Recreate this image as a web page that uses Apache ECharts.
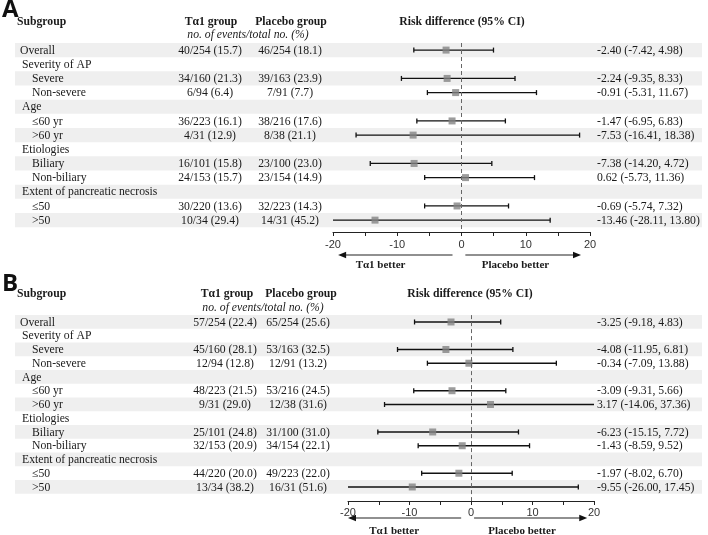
<!DOCTYPE html>
<html><head><meta charset="utf-8">
<script src="https://cdn.jsdelivr.net/npm/echarts@6/dist/echarts.min.js"></script>
<style>html,body{margin:0;padding:0;background:#fff}#c{width:708px;height:535px}</style>
</head><body><div id="c"></div>
<script>
// ---------- DATA ----------
const subgroups = ['Overall','Severity of AP','Severe','Non-severe','Age','≤60 yr','>60 yr','Etiologies','Biliary','Non-biliary','Extent of pancreatic necrosis','≤50','>50'];
const indentLevel = [0,1,2,2,1,2,2,1,2,2,1,2,2];
// Panel A
const aT1Events = [40,null,34,6,null,36,4,null,16,24,null,30,10];
const aT1Total  = [254,null,160,94,null,223,31,null,101,153,null,220,34];
const aT1Pct    = [15.7,null,21.3,6.4,null,16.1,12.9,null,15.8,15.7,null,13.6,29.4];
const aPlEvents = [46,null,39,7,null,38,8,null,23,23,null,32,14];
const aPlTotal  = [254,null,163,91,null,216,38,null,100,154,null,223,31];
const aPlPct    = [18.1,null,23.9,7.7,null,17.6,21.1,null,23.0,14.9,null,14.3,45.2];
const aRD = [-2.40,null,-2.24,-0.91,null,-1.47,-7.53,null,-7.38,0.62,null,-0.69,-13.46];
const aLo = [-7.42,null,-9.35,-5.31,null,-6.95,-16.41,null,-14.20,-5.73,null,-5.74,-28.11];
const aHi = [4.98,null,8.33,11.67,null,6.83,18.38,null,4.72,11.36,null,7.32,13.80];
// Panel B
const bT1Events = [57,null,45,12,null,48,9,null,25,32,null,44,13];
const bT1Total  = [254,null,160,94,null,223,31,null,101,153,null,220,34];
const bT1Pct    = [22.4,null,28.1,12.8,null,21.5,29.0,null,24.8,20.9,null,20.0,38.2];
const bPlEvents = [65,null,53,12,null,53,12,null,31,34,null,49,16];
const bPlTotal  = [254,null,163,91,null,216,38,null,100,154,null,223,31];
const bPlPct    = [25.6,null,32.5,13.2,null,24.5,31.6,null,31.0,22.1,null,22.0,51.6];
const bRD = [-3.25,null,-4.08,-0.34,null,-3.09,3.17,null,-6.23,-1.43,null,-1.97,-9.55];
const bLo = [-9.18,null,-11.95,-7.09,null,-9.31,-14.06,null,-15.15,-8.59,null,-8.02,-26.00];
const bHi = [4.83,null,6.81,13.88,null,5.66,37.36,null,7.72,9.52,null,6.70,17.45];
const xTickLabels = [-20,-10,0,10,20];
const headers = {sub:'Subgroup', t1:'Tα1 group', pl:'Placebo group', rd:'Risk difference (95% CI)', note:'no. of events/total no. (%)'};
const betterLabels = ['Tα1 better','Placebo better'];

// ---------- LAYOUT ----------
const SERIF = '"Liberation Serif", "Times New Roman", serif';
const SANS = '"Liberation Sans", Arial, sans-serif';
const TXT = '#1a1a1a';
const FS = 11.7;
const panels = [
  {letter:'A', letterY:11, headY:22, noteY:35, top:43, rowH:14.17, fLeft:333, fWidth:257, axisY:232,
   t1X:210, plX:290, ciX:597, hT1:211, hPl:291, hRd:462, hNote:248, lblMargin:7, arrowY:255, betterY:265,
   arrowL:[-1.4,-19.2], arrowR:[0.6,18.6], betterX:[-12.6,8.4],
   t1E:aT1Events,t1N:aT1Total,t1P:aT1Pct,plE:aPlEvents,plN:aPlTotal,plP:aPlPct,rd:aRD,lo:aLo,hi:aHi},
  {letter:'B', letterY:285, headY:294, noteY:308, top:315.1, rowH:13.75, fLeft:348, fWidth:246, axisY:501,
   t1X:225, plX:298, ciX:597, hT1:227, hPl:301, hRd:470, hNote:263, lblMargin:6, arrowY:518, betterY:531,
   arrowL:[-1.6,-20], arrowR:[0.5,18.9], betterX:[-12.5,8.3],
   t1E:bT1Events,t1N:bT1Total,t1P:bT1Pct,plE:bPlEvents,plN:bPlTotal,plP:bPlPct,rd:bRD,lo:bLo,hi:bHi}
];
const indentX = [20, 22, 32];

const chart = echarts.init(document.getElementById('c'), null, {renderer:'canvas'});

const grid = [], xAxis = [], yAxis = [], series = [], graphic = [];

function textSeries(gIdx, rows, align){
  // rows: array of [x, row, text]
  return {type:'custom', xAxisIndex:gIdx, yAxisIndex:gIdx, z:2, silent:true,
    data: rows.map(r => [r[0], r[1]]), encode:{x:0, y:1},
    renderItem: (params, api) => {
      const p = api.coord([api.value(0), api.value(1)]);
      return {type:'text', x:p[0], y:p[1]+0.5, style:{text: rows[params.dataIndex][2], align:align, verticalAlign:'middle',
        fontFamily:SERIF, fontSize:FS, fill:TXT}};
    }};
}

panels.forEach((P, k) => {
  const h = P.axisY - P.top;
  const yMax = h / P.rowH - 0.5;
  const gT = 2*k, gF = 2*k+1;
  grid.push({left:0, width:708, top:P.top, height:h});
  grid.push({left:P.fLeft, width:P.fWidth, top:P.top, height:h});
  xAxis.push({gridIndex:gT, type:'value', min:0, max:708, show:false});
  xAxis.push({gridIndex:gF, type:'value', min:-20, max:20, interval:5,
    axisLine:{show:true, onZero:false, lineStyle:{color:'#222', width:1}},
    axisTick:{show:true, length:4, lineStyle:{color:'#222'}},
    splitLine:{show:false},
    axisLabel:{margin:P.lblMargin, color:'#333', fontFamily:SANS, fontSize:11,
      formatter: v => xTickLabels.indexOf(v) >= 0 ? String(v) : ''}});
  yAxis.push({gridIndex:gT, type:'value', min:-0.5, max:yMax, inverse:true, show:false});
  yAxis.push({gridIndex:gF, type:'value', min:-0.5, max:yMax, inverse:true, show:false});

  // shaded bands (every other row)
  const bandData = subgroups.map((s,i)=>i).filter(i => i%2===0).map(i => [0, i]);
  series.push({type:'custom', xAxisIndex:gT, yAxisIndex:gT, z:0, silent:true, data:bandData,
    encode:{x:0, y:1},
    renderItem:(params, api) => {
      const row = api.value(1);
      const p1 = api.coord([15,row]), p2 = api.coord([702,row]);
      const hh = api.size([0,1])[1];
      return {type:'rect', shape:{x:p1[0], y:p1[1]-hh/2, width:p2[0]-p1[0], height:hh}, style:{fill:'#efefef'}};
    }});

  series.push(textSeries(gT, subgroups.map((s,i) => [indentX[indentLevel[i]], i, s]), 'left'));
  series.push(textSeries(gT, P.t1E.map((e,i) => e==null?null:[P.t1X, i, e+'/'+P.t1N[i]+' ('+P.t1P[i].toFixed(1)+')']).filter(d=>d), 'center'));
  series.push(textSeries(gT, P.plE.map((e,i) => e==null?null:[P.plX, i, e+'/'+P.plN[i]+' ('+P.plP[i].toFixed(1)+')']).filter(d=>d), 'center'));
  series.push(textSeries(gT, P.rd.map((r,i) => r==null?null:[P.ciX, i, r.toFixed(2)+' ('+P.lo[i].toFixed(2)+', '+P.hi[i].toFixed(2)+')']).filter(d=>d), 'left'));

  // CI lines
  series.push({type:'custom', xAxisIndex:gF, yAxisIndex:gF, z:3, silent:true,
    data: P.lo.map((l,i) => l==null?null:[l, P.hi[i], i]).filter(d=>d),
    encode:{x:[0,1], y:2},
    renderItem:(params, api) => {
      const lo = api.value(0), hi = api.value(1), row = api.value(2);
      const a = Math.max(lo,-20), b = Math.min(hi,20);
      const p1 = api.coord([a,row]), p2 = api.coord([b,row]);
      const st = {stroke:'#111', lineWidth:1.3};
      const kids = [{type:'line', shape:{x1:p1[0],y1:p1[1],x2:p2[0],y2:p2[1]}, style:st}];
      if (lo >= -20) kids.push({type:'line', shape:{x1:p1[0],y1:p1[1]-2.5,x2:p1[0],y2:p1[1]+2.5}, style:st});
      if (hi <= 20) kids.push({type:'line', shape:{x1:p2[0],y1:p2[1]-2.5,x2:p2[0],y2:p2[1]+2.5}, style:st});
      return {type:'group', children:kids};
    }});
  // point estimates
  series.push({type:'scatter', xAxisIndex:gF, yAxisIndex:gF, z:4, silent:true,
    symbol:'rect', symbolSize:7, itemStyle:{color:'#838383'},
    data: P.rd.map((r,i) => r==null?null:[r,i]).filter(d=>d),
    markLine:{silent:true, symbol:'none', label:{show:false}, animation:false,
      lineStyle:{type:[4,3], color:'#666', width:1}, data:[{xAxis:0}]}});

  // header texts
  graphic.push({type:'text', left:2, top:P.letterY-13, style:{text:P.letter, font:'bold 24px "Open Sans", "DejaVu Sans", sans-serif', fill:'#111'}});
  const hdr = (txt, x, y, align, font) => graphic.push({type:'text', x:x, y:y,
    style:{text:txt, align:align, verticalAlign:'middle', font:font, fill:TXT}});
  hdr(headers.sub, 17, P.headY, 'left', 'bold '+FS+'px '+SERIF);
  hdr(headers.t1, P.hT1, P.headY, 'center', 'bold '+FS+'px '+SERIF);
  hdr(headers.pl, P.hPl, P.headY, 'center', 'bold '+FS+'px '+SERIF);
  hdr(headers.rd, P.hRd, P.headY, 'center', 'bold '+FS+'px '+SERIF);
  hdr(headers.note, P.hNote, P.noteY, 'center', 'italic '+FS+'px '+SERIF);
});

chart.setOption({animation:false, backgroundColor:'#fff', grid, xAxis, yAxis, series, graphic});

// arrows and "better" labels positioned via the forest x-axis scale
panels.forEach((P, k) => {
  const gF = 2*k+1;
  const px = v => chart.convertToPixel({xAxisIndex:gF}, v);
  const arrow = (from, to) => {
    const x1 = px(from), x2 = px(to), y = P.arrowY;
    const dir = x2 > x1 ? 1 : -1;
    graphic.push({type:'line', shape:{x1:x1, y1:y, x2:x2 - dir*6, y2:y}, style:{stroke:'#222', lineWidth:1.2}});
    graphic.push({type:'polygon', shape:{points:[[x2,y],[x2-dir*8,y-3.2],[x2-dir*8,y+3.2]]}, style:{fill:'#111'}});
  };
  arrow(P.arrowL[0], P.arrowL[1]);
  arrow(P.arrowR[0], P.arrowR[1]);
  betterLabels.forEach((t, j) => graphic.push({type:'text', x:px(P.betterX[j]), y:P.betterY,
    style:{text:t, align:'center', verticalAlign:'middle', font:'bold 11px '+SERIF, fill:TXT}}));
});
chart.setOption({graphic:graphic}, {replaceMerge:['graphic']});
</script></body></html>
